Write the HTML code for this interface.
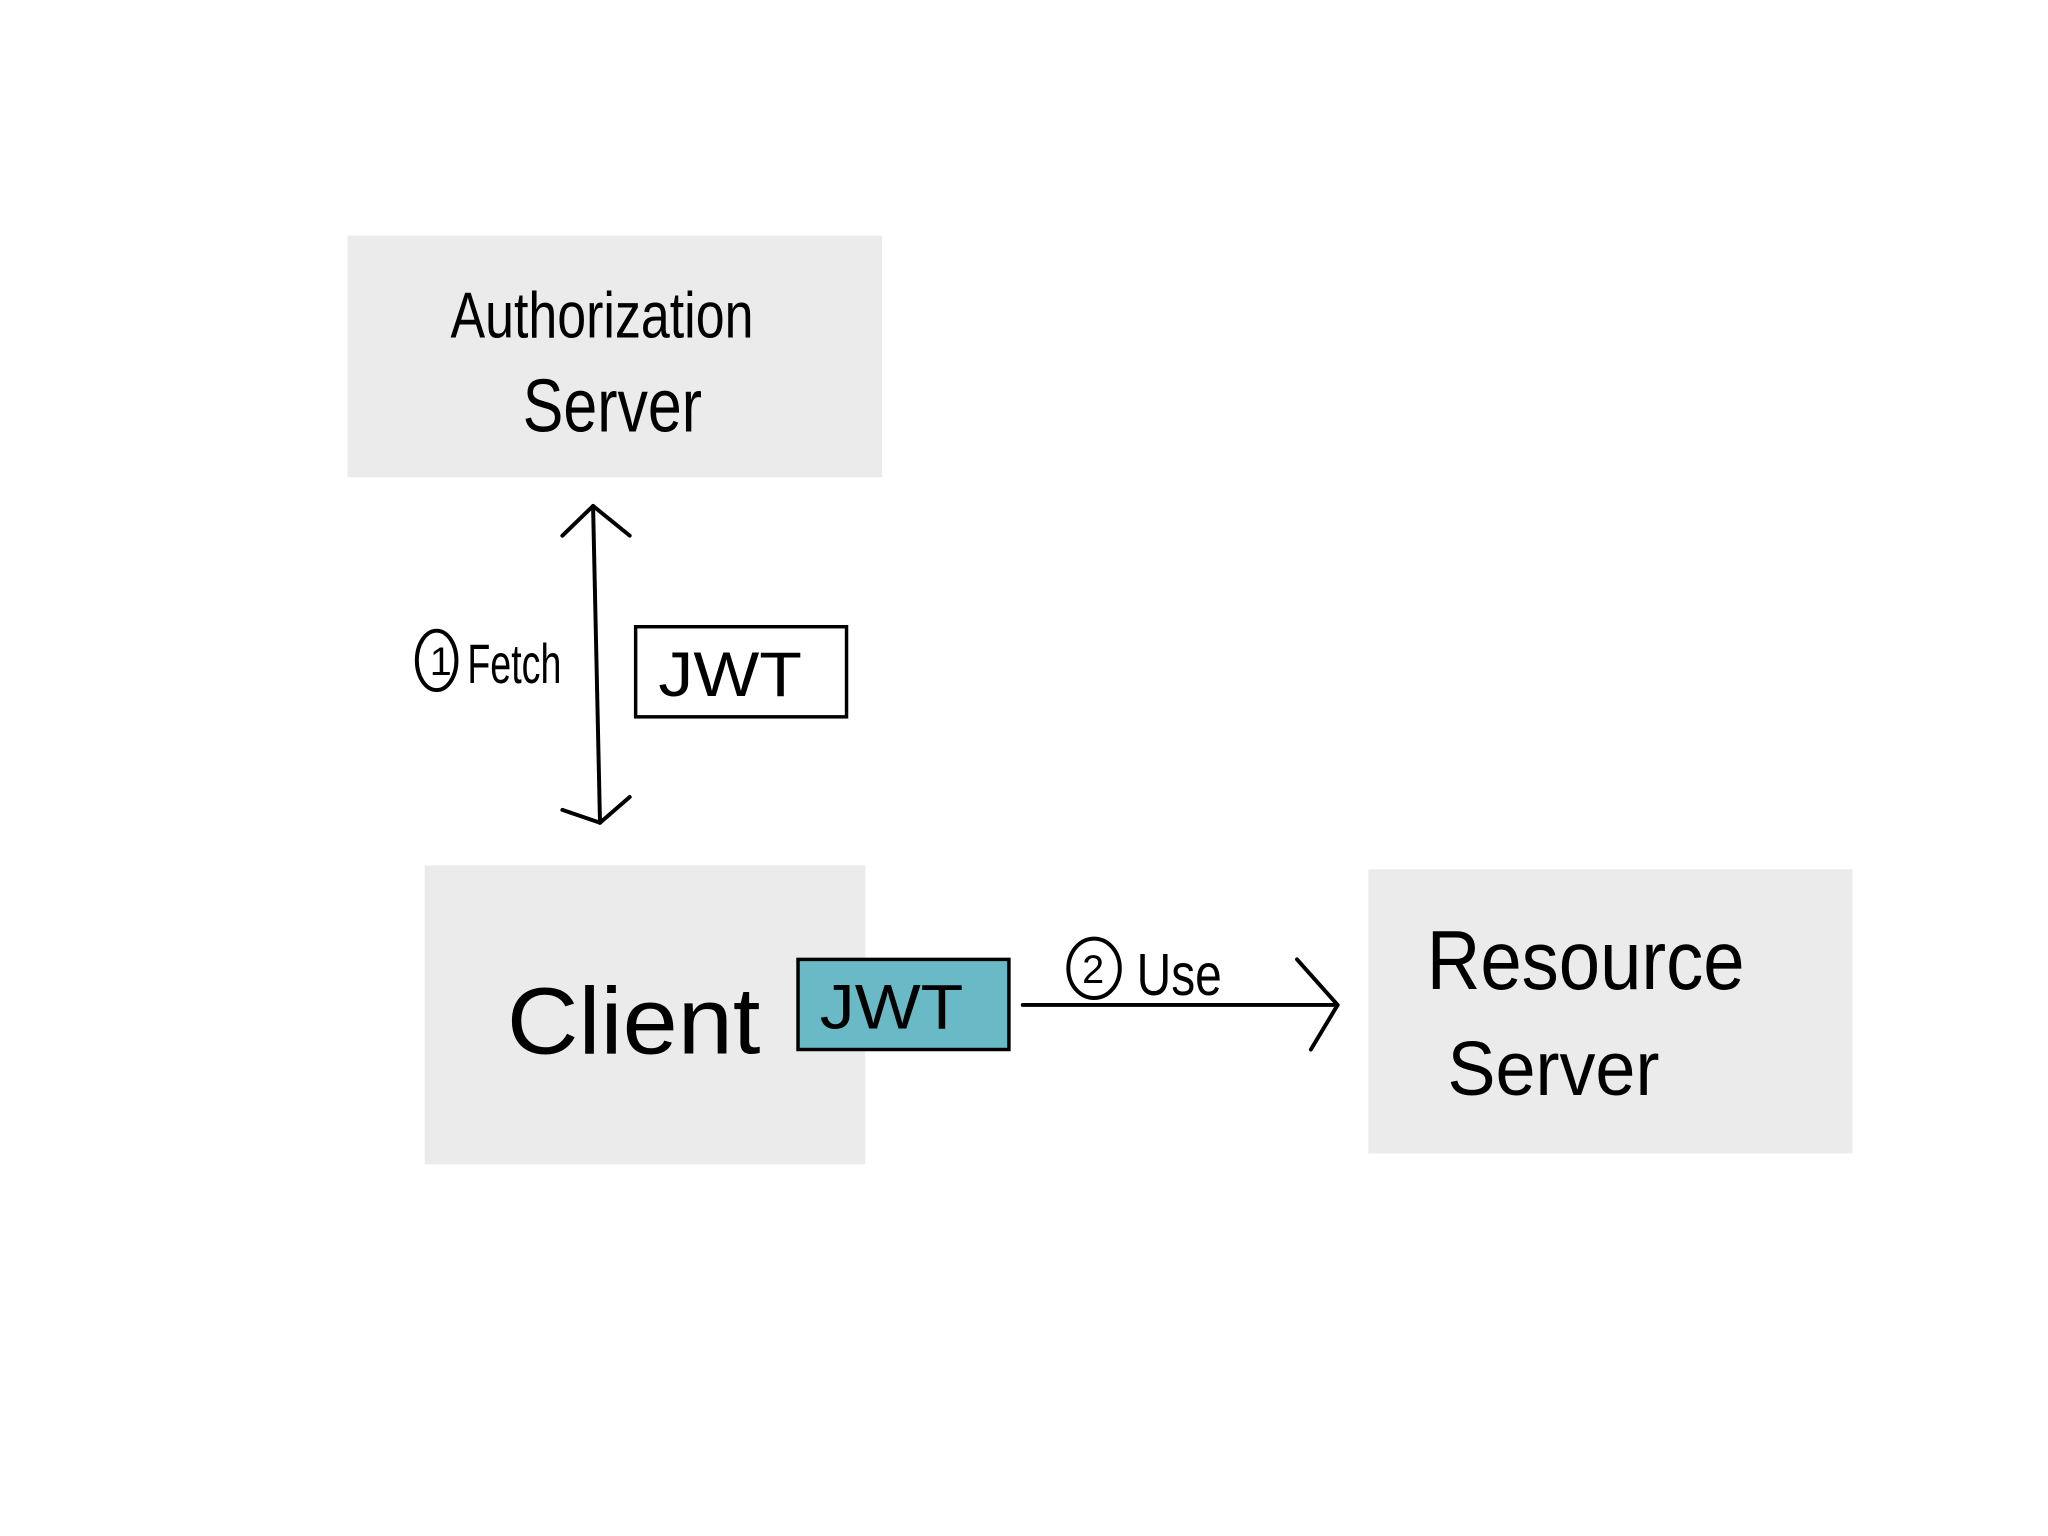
<!DOCTYPE html>
<html><head><meta charset="utf-8"><style>
html,body{margin:0;padding:0;background:#fff;}
svg{display:block;}
text{font-family:"Liberation Sans",sans-serif;fill:#000;}
</style></head><body>
<svg width="2048" height="1536" viewBox="0 0 2048 1536" xmlns="http://www.w3.org/2000/svg">
<rect width="2048" height="1536" fill="#fff"/>
<g transform="scale(0.9901)">
<rect x="351" y="238" width="540" height="244" fill="#ebebeb"/>
<rect x="429" y="874" width="445" height="302" fill="#ebebeb"/>
<rect x="1382" y="878" width="489" height="287" fill="#ebebeb"/>
<rect x="642" y="633" width="213" height="91" fill="#fff" stroke="#000" stroke-width="3.5"/>
<rect x="806" y="969" width="213" height="91" fill="#69b9c7" stroke="#000" stroke-width="3.5"/>
<g stroke="#000" stroke-width="4" fill="none" stroke-linecap="round" stroke-linejoin="round">
<line x1="599" y1="511" x2="606" y2="831"/>
<polyline points="568,541 599,511 636,541"/>
<polyline points="568,818 606,831 636,805"/>
<line x1="1033" y1="1015" x2="1351" y2="1015"/>
<polyline points="1310,969 1351,1015 1324,1060"/>
<ellipse cx="441" cy="667" rx="20" ry="30"/>
<ellipse cx="1105" cy="978" rx="26" ry="30"/>
</g>
<text x="455" y="341" font-size="66" textLength="306" lengthAdjust="spacingAndGlyphs">Authorization</text>
<text x="528" y="436" font-size="76" textLength="181" lengthAdjust="spacingAndGlyphs">Server</text>
<text x="512" y="1064" font-size="96" textLength="256" lengthAdjust="spacingAndGlyphs">Client</text>
<text x="1441" y="999" font-size="84" textLength="321" lengthAdjust="spacingAndGlyphs">Resource</text>
<text x="1462" y="1106" font-size="78" textLength="214" lengthAdjust="spacingAndGlyphs">Server</text>
<text x="434" y="682" font-size="40">1</text>
<text x="472" y="690" font-size="56" textLength="95" lengthAdjust="spacingAndGlyphs">Fetch</text>
<text x="1093" y="993" font-size="40">2</text>
<text x="1148" y="1005" font-size="60" textLength="86" lengthAdjust="spacingAndGlyphs">Use</text>
<text x="665" y="703" font-size="64" textLength="145" lengthAdjust="spacingAndGlyphs">JWT</text>
<text x="828" y="1039" font-size="64" textLength="145" lengthAdjust="spacingAndGlyphs">JWT</text>
</g>
</svg>
</body></html>
